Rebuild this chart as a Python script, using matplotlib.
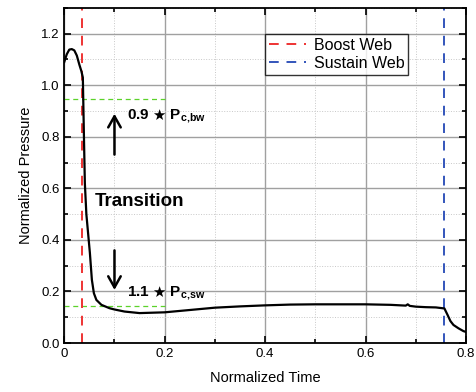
import numpy as np
import matplotlib
matplotlib.use('Agg')
import matplotlib.pyplot as plt
from matplotlib.ticker import MultipleLocator

plt.rcParams['font.family'] = ['Liberation Sans', 'DejaVu Sans']
plt.rcParams['mathtext.fontset'] = 'custom'
plt.rcParams['mathtext.rm'] = 'Liberation Sans'
plt.rcParams['mathtext.bf'] = 'Liberation Sans:bold'
plt.rcParams['mathtext.fallback'] = 'stixsans'

# pressure trace
time = [0.0, 0.005, 0.01, 0.015, 0.02, 0.025, 0.03, 0.034, 0.037, 0.039, 0.041,
        0.044, 0.051, 0.055, 0.059, 0.064, 0.074, 0.09, 0.10, 0.12, 0.15, 0.2,
        0.25, 0.3, 0.35, 0.4, 0.45, 0.5, 0.55, 0.6, 0.65, 0.68, 0.684, 0.688,
        0.7, 0.72, 0.74, 0.757, 0.763, 0.769, 0.775, 0.785, 0.795, 0.8]
pressure = [1.09, 1.12, 1.138, 1.14, 1.135, 1.115, 1.08, 1.055, 1.03, 0.82, 0.62,
            0.50, 0.35, 0.245, 0.193, 0.167, 0.148, 0.135, 0.13, 0.122, 0.116, 0.119,
            0.128, 0.137, 0.142, 0.146, 0.149, 0.150, 0.150, 0.150, 0.148, 0.145, 0.150, 0.144,
            0.141, 0.139, 0.138, 0.134, 0.11, 0.085, 0.07, 0.057, 0.046, 0.043]

boost_web_t = 0.036
sustain_web_t = 0.757
p_bw_level = 0.945
p_sw_level = 0.143

fig, ax = plt.subplots(figsize=(4.76, 3.92), dpi=100)
fig.subplots_adjust(left=0.135, right=0.979, bottom=0.125, top=0.98)

ax.set_xlim(0, 0.8)
ax.set_ylim(0, 1.3)
ax.xaxis.set_minor_locator(MultipleLocator(0.1))
ax.yaxis.set_minor_locator(MultipleLocator(0.1))
ax.set_xticks([0, 0.2, 0.4, 0.6, 0.8])
ax.set_xticklabels(['0', '0.2', '0.4', '0.6', '0.8'])
ax.set_yticks([0, 0.2, 0.4, 0.6, 0.8, 1.0, 1.2])
ax.set_yticklabels(['0.0', '0.2', '0.4', '0.6', '0.8', '1.0', '1.2'])

ax.grid(which='major', color='#a0a0a0', lw=1.0, ls='-')
ax.grid(which='minor', color='#c8c8c8', lw=0.7, ls=':')
ax.set_axisbelow(True)
ax.tick_params(which='both', direction='in', top=True, right=True, labelsize=9.5, width=1.2)
ax.tick_params(which='major', length=5)
ax.tick_params(which='minor', length=3)
for s in ax.spines.values():
    s.set_linewidth(1.3)

ax.plot([0, 0.2], [p_bw_level, p_bw_level], color='#5cd22a', lw=0.9, ls=(0, (4, 3)))
ax.plot([0, 0.2], [p_sw_level, p_sw_level], color='#5cd22a', lw=0.9, ls=(0, (4, 3)))

ax.axvline(boost_web_t, color='#ee3333', lw=1.4, ls=(0, (5, 4)), label='Boost Web')
ax.axvline(sustain_web_t, color='#3355bb', lw=1.4, ls=(0, (5, 4)), label='Sustain Web')

ax.plot(time, pressure, color='black', lw=1.6)

arrow = dict(arrowstyle='->,head_length=0.8,head_width=0.45', lw=1.8, color='black')
ax.annotate('', xy=(0.1, 0.9), xytext=(0.1, 0.72), arrowprops=arrow)
ax.annotate('', xy=(0.1, 0.195), xytext=(0.1, 0.37), arrowprops=arrow)

ax.text(0.125, 0.88, r'0.9 $\bigstar$ P$_{\mathbf{c{,}bw}}$', fontsize=11, fontweight='bold', va='center')
ax.text(0.125, 0.195, r'1.1 $\bigstar$ P$_{\mathbf{c{,}sw}}$', fontsize=11, fontweight='bold', va='center')
ax.text(0.06, 0.55, 'Transition', fontsize=13.5, fontweight='bold', va='center')

ax.set_xlabel('Normalized Time', fontsize=10.5, labelpad=8)
ax.set_ylabel('Normalized Pressure', fontsize=10.5, labelpad=6)

leg = ax.legend(loc='upper left', bbox_to_anchor=(0.5, 0.923), fontsize=11.5,
                frameon=True, fancybox=False, edgecolor='black', handlelength=2.3,
                borderpad=0.25, labelspacing=0.2, handletextpad=0.5, borderaxespad=0)
leg.get_frame().set_linewidth(1.0)

fig.savefig('out.png', dpi=100)
